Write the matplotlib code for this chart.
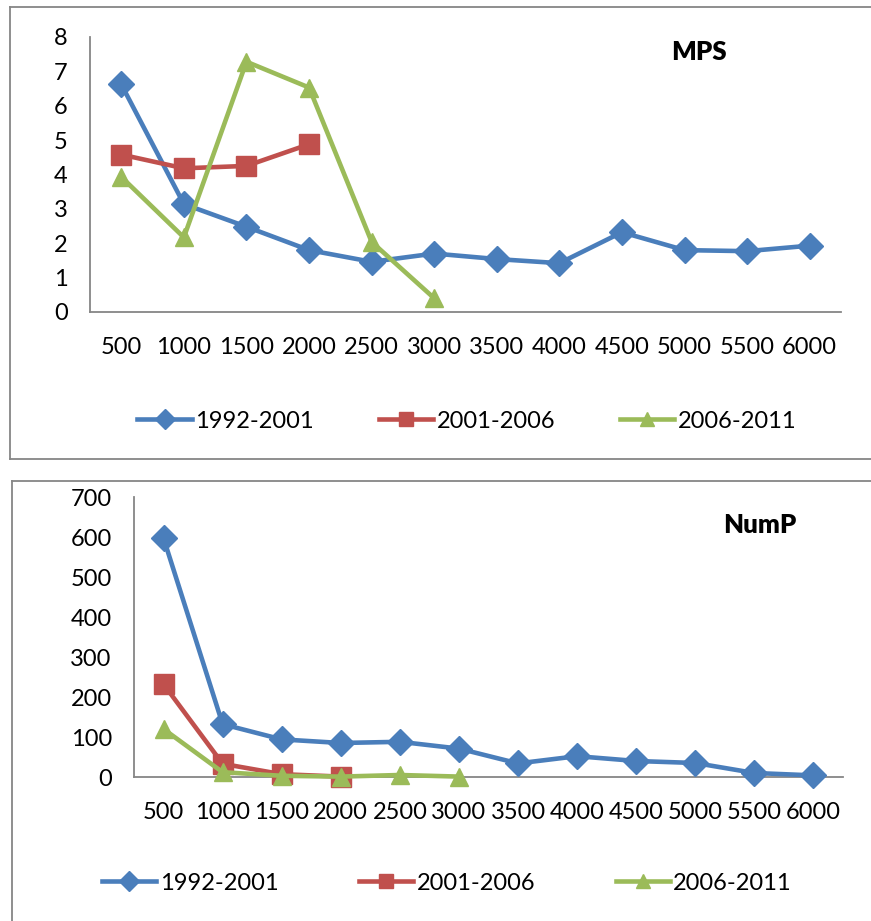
import matplotlib.pyplot as plt
from matplotlib.lines import Line2D

plt.rcParams['font.family'] = ['Lato', 'DejaVu Sans']

cats = ['500', '1000', '1500', '2000', '2500', '3000', '3500', '4000', '4500', '5000', '5500', '6000']
series = ['1992-2001', '2001-2006', '2006-2011']

mps_92 = [6.62, 3.14, 2.48, 1.80, 1.46, 1.70, 1.54, 1.42, 2.32, 1.80, 1.77, 1.93]
mps_01 = [4.58, 4.18, 4.25, 4.88]
mps_06 = [3.93, 2.17, 7.28, 6.53, 2.04, 0.40]

nump_92 = [597, 132, 94, 85, 88, 71, 34, 52, 40, 35, 10, 4]
nump_01 = [232, 33, 7, 1]
nump_06 = [120, 12, 3, 1, 5, 1]

colors = ['#4A7EBB', '#C0504D', '#9BBB59']
markers = ['D', 's', '^']
msizes = [13, 14, 13]
grey = '#868686'

W, H = 871, 921
fig = plt.figure(figsize=(W / 100, H / 100), dpi=100)


def fx(px):
    return px / W


def fy(py):
    return 1 - py / H


def panel(rect, data, ymax, ystep, title, title_xy, leg_xy, colspace):
    ax = fig.add_axes(rect)
    x = list(range(len(cats)))
    for vals, c, m, ms, lab in zip(data, colors, markers, msizes, series):
        ax.plot(x[:len(vals)], vals, color=c, lw=3.3, marker=m, ms=ms,
                mec=c, mfc=c, label=lab, clip_on=False, zorder=3)
    ax.set_xlim(-0.5, len(cats) - 0.5)
    ax.set_ylim(0, ymax)
    ax.set_xticks(x)
    ax.set_xticklabels(cats)
    ax.set_yticks(range(0, ymax + 1, ystep))
    for s in ['top', 'right']:
        ax.spines[s].set_visible(False)
    for s in ['left', 'bottom']:
        ax.spines[s].set_color(grey)
        ax.spines[s].set_linewidth(1.3)
    ax.tick_params(axis='x', length=0, pad=18, labelsize=17)
    ax.tick_params(axis='y', length=0, pad=16, labelsize=17)
    fig.text(fx(title_xy[0]), fy(title_xy[1]), title, fontsize=18.5,
             fontweight='heavy', ha='center', va='center')
    fig.legend(*ax.get_legend_handles_labels(), loc='center',
               bbox_to_anchor=(fx(leg_xy[0]), fy(leg_xy[1])), ncol=3,
               frameon=False, fontsize=17, handlelength=2.3, markerscale=0.75,
               handletextpad=0.15, columnspacing=colspace)
    return ax


panel([fx(90), fy(312), fx(751), 275 / H], [mps_92, mps_01, mps_06],
      8, 1, 'MPS', (699, 52), (467, 421), 2.75)
panel([fx(134), fy(777), fx(709), 280 / H], [nump_92, nump_01, nump_06],
      700, 100, 'NumP', (760, 525), (447, 883), 3.4)

# chart area borders (right/bottom edges fall outside the picture)
for xs, ys in [([10, 10], [7, 459]), ([10, 880], [7, 7]), ([10, 880], [459, 459]),
               ([12, 12], [481, 930]), ([12, 880], [481, 481])]:
    fig.add_artist(Line2D([fx(v) for v in xs], [fy(v) for v in ys],
                          color=grey, lw=1.3))

fig.savefig('out.png', dpi=100)
